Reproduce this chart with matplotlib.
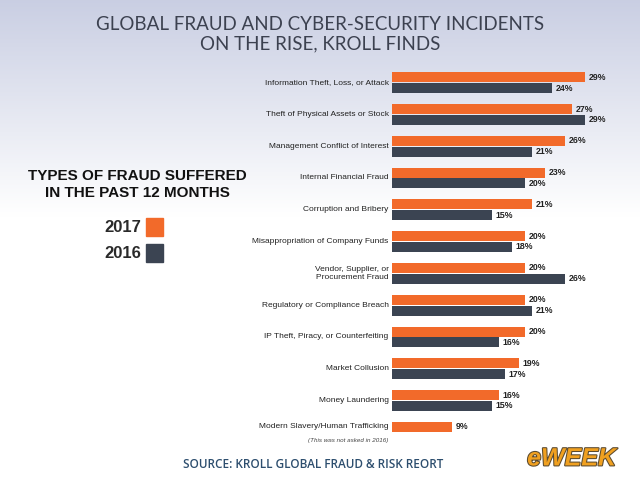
import matplotlib.pyplot as plt
import matplotlib.patheffects as pe
import numpy as np

categories = [
    "Information Theft, Loss, or Attack",
    "Theft of Physical Assets or Stock",
    "Management Conflict of Interest",
    "Internal Financial Fraud",
    "Corruption and Bribery",
    "Misappropriation of Company Funds",
    "Vendor, Supplier, or\nProcurement Fraud",
    "Regulatory or Compliance Breach",
    "IP Theft, Piracy, or Counterfeiting",
    "Market Collusion",
    "Money Laundering",
    "Modern Slavery/Human Trafficking",
]
vals_2017 = [29, 27, 26, 23, 21, 20, 20, 20, 20, 19, 16, 9]
vals_2016 = [24, 29, 21, 20, 15, 18, 26, 21, 16, 17, 15, None]

ORANGE = "#f26a2a"
DARK = "#3b4452"

plt.rcParams["font.family"] = ["Liberation Sans", "DejaVu Sans"]

fig = plt.figure(figsize=(6.4, 4.8), dpi=100)

# background gradient
bg = fig.add_axes([0, 0, 1, 1], zorder=-10)
t = np.linspace(0, 1, 256)
fade = np.clip(t / 0.45, 0, 1)
top = np.array([0.79, 0.81, 0.89])
rgb = top[None, :] * (1 - fade[:, None]) + np.ones(3)[None, :] * fade[:, None]
bg.imshow(rgb[:, None, :], aspect="auto", extent=[0, 1, 0, 1])
bg.axis("off")

fig.text(0.5, 0.929, "GLOBAL FRAUD AND CYBER-SECURITY INCIDENTS\nON THE RISE, KROLL FINDS",
         ha="center", va="center", fontsize=13.5, color="#3c4150",
         fontfamily="Lato", linespacing=1.2)

ax = fig.add_axes([0.6125, 0.0596, 0.375, 0.808])
ax.patch.set_alpha(0)
y = np.arange(len(categories))
h = 0.315
off = 0.17
ax.barh(y - off, vals_2017, height=h, color=ORANGE)
for yi, v in zip(y, vals_2017):
    ax.text(v + 0.5, yi - off, f"{v}%", va="center", ha="left", fontsize=6.3, fontweight="bold", color="#222222")
for yi, v in zip(y, vals_2016):
    if v is None:
        continue
    ax.barh(yi + off, v, height=h, color=DARK)
    ax.text(v + 0.5, yi + off, f"{v}%", va="center", ha="left", fontsize=6.3, fontweight="bold", color="#222222")

ax.set_xlim(0, 36)
ax.set_ylim(11.6, -0.6)
ax.axis("off")

for yi, c in zip(y, categories):
    if yi == len(categories) - 1:
        ax.text(-0.5, yi - off, c, ha="right", va="center", fontsize=6, color="#222222")
        ax.text(-0.5, yi + 0.27, "(This was not asked in 2016)", ha="right", va="center",
                fontsize=4.5, style="italic", color="#444444")
    else:
        ax.text(-0.5, yi, c, ha="right", va="center", fontsize=6, color="#222222", linespacing=1.2)

fig.text(0.215, 0.615, "TYPES OF FRAUD SUFFERED\nIN THE PAST 12 MONTHS", ha="center", va="center",
         fontsize=11, fontweight="bold", color="#111111", linespacing=1.25)
fig.text(0.221, 0.525, "2017", ha="right", va="center", fontsize=12, fontweight="bold", color="#2a2a2a")
fig.text(0.221, 0.472, "2016", ha="right", va="center", fontsize=12, fontweight="bold", color="#2a2a2a")
fig.patches.append(plt.Rectangle((0.228, 0.508), 0.027, 0.037, color=ORANGE, transform=fig.transFigure))
fig.patches.append(plt.Rectangle((0.228, 0.455), 0.027, 0.037, color=DARK, transform=fig.transFigure))

fig.text(0.49, 0.033, "SOURCE: KROLL GLOBAL FRAUD & RISK REORT", ha="center", va="center",
         fontsize=8.5, color="#2d4e6e", fontfamily="Open Sans", fontweight="semibold")
fig.text(0.893, 0.045, "eWEEK", ha="center", va="center", fontsize=18, fontweight="bold",
         style="italic", color="#f0a020",
         path_effects=[pe.withStroke(linewidth=1.5, foreground="#5a4a30")])

fig.savefig("out.png", dpi=100)
